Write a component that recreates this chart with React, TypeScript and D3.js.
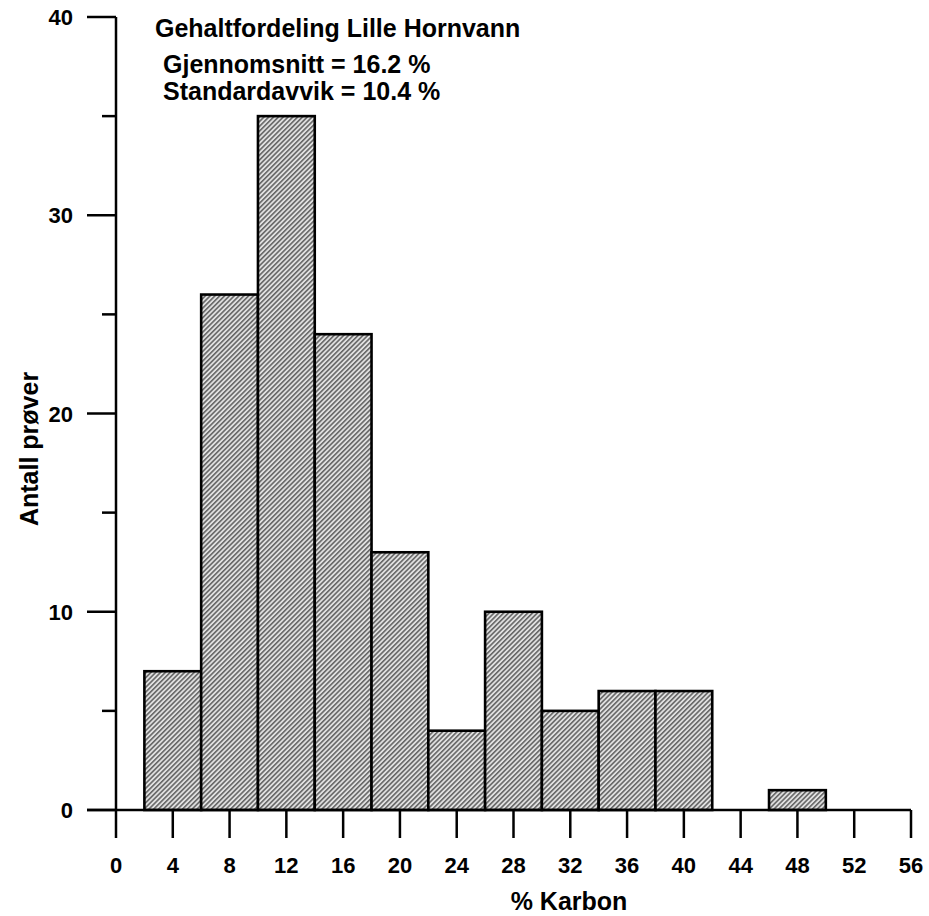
import React from 'react';
import * as d3 from 'd3';

// histogram bins (lower edge, width 4) and counts
const binLower = [2, 6, 10, 14, 18, 22, 26, 30, 34, 38, 42, 46];
const binWidth = 4;
const counts = [7, 26, 35, 24, 13, 4, 10, 5, 6, 6, 0, 1];

const xTicks = [0, 4, 8, 12, 16, 20, 24, 28, 32, 36, 40, 44, 48, 52, 56];
const yMajor = [0, 10, 20, 30, 40];
const yMinor = [5, 15, 25, 35];

const titleLines = ['Gehaltfordeling Lille Hornvann', 'Gjennomsnitt = 16.2 %', 'Standardavvik = 10.4 %'];

const W = 929;
const H = 916;
const font = '"Liberation Sans", Arial, sans-serif';

const App = () => {
  const x = d3.scaleLinear().domain([0, 56]).range([116, 911]);
  const y = d3.scaleLinear().domain([0, 40]).range([810, 17]);

  return (
    <div style={{ position: 'absolute', left: 0, top: 0 }}>
      <svg width={W} height={H} style={{ display: 'block', background: '#fff' }}>
        <defs>
          <pattern id="hatch" patternUnits="userSpaceOnUse" width={3.4} height={3.4} patternTransform="rotate(45)">
            <rect width={3.4} height={3.4} fill="#e0e0e0" />
            <line x1={0.8} y1={0} x2={0.8} y2={3.4} stroke="#4a4a4a" strokeWidth={1.3} />
          </pattern>
        </defs>

        {/* bars */}
        {binLower.map((b, i) =>
          counts[i] > 0 ? (
            <rect
              key={b}
              x={x(b)}
              y={y(counts[i])}
              width={x(b + binWidth) - x(b)}
              height={y(0) - y(counts[i])}
              fill="url(#hatch)"
              stroke="#000"
              strokeWidth={2.6}
            />
          ) : null
        )}

        {/* y axis */}
        <line x1={x(0)} x2={x(0)} y1={y(40)} y2={y(0)} stroke="#000" strokeWidth={2.5} />
        {yMajor.map(v => (
          <g key={v}>
            <line x1={x(0) - 29} x2={x(0)} y1={y(v)} y2={y(v)} stroke="#000" strokeWidth={2.5} />
            <text x={x(0) - 43} y={y(v) + 8} textAnchor="end" fontFamily={font} fontWeight="bold" fontSize={22}>{v}</text>
          </g>
        ))}
        {yMinor.map(v => (
          <line key={v} x1={x(0) - 14} x2={x(0)} y1={y(v)} y2={y(v)} stroke="#000" strokeWidth={2.5} />
        ))}

        {/* x axis */}
        <line x1={x(0) - 29} x2={x(56)} y1={y(0)} y2={y(0)} stroke="#000" strokeWidth={2.5} />
        {xTicks.map(v => (
          <g key={v}>
            <line x1={x(v)} x2={x(v)} y1={y(0)} y2={y(0) + 28} stroke="#000" strokeWidth={2.5} />
            <text x={x(v)} y={873} textAnchor="middle" fontFamily={font} fontWeight="bold" fontSize={22}>{v}</text>
          </g>
        ))}

        <text x={569} y={910} textAnchor="middle" fontFamily={font} fontWeight="bold" fontSize={25}>% Karbon</text>
        <text transform="translate(38,449) rotate(-90)" textAnchor="middle" fontFamily={font} fontWeight="bold" fontSize={25}>Antall prøver</text>

        <text x={155} y={37} fontFamily={font} fontWeight="bold" fontSize={25}>{titleLines[0]}</text>
        <text x={163} y={73} fontFamily={font} fontWeight="bold" fontSize={25}>{titleLines[1]}</text>
        <text x={163} y={100} fontFamily={font} fontWeight="bold" fontSize={25}>{titleLines[2]}</text>
      </svg>
    </div>
  );
};

export default App;
